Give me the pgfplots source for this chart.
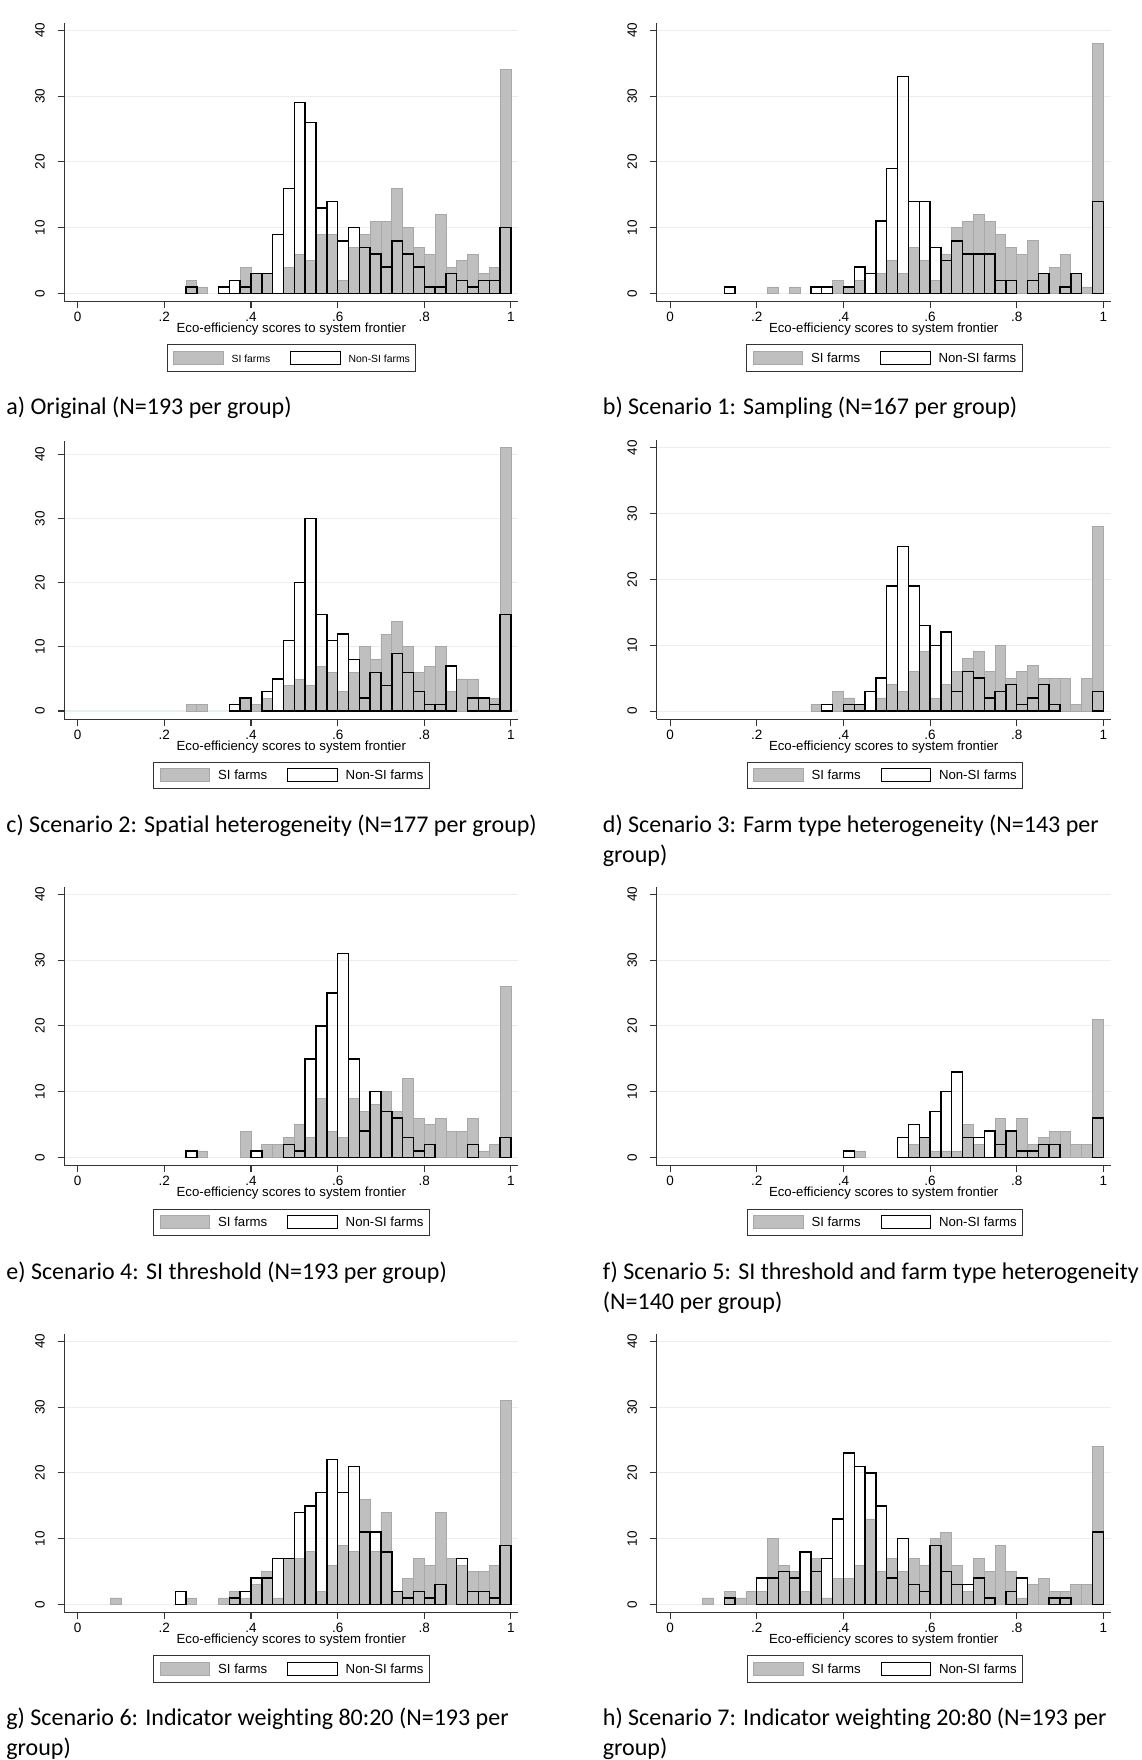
\documentclass[border=0pt]{standalone}
\usepackage{fontspec}
\setmainfont{Liberation Sans}
\newfontfamily\capfont[Ligatures=NoCommon]{Carlito}
\usepackage{pgfplots}
\pgfplotsset{compat=1.18}
\definecolor{sifill}{RGB}{191,191,191}
\definecolor{siedge}{RGB}{168,168,168}
\definecolor{gridc}{RGB}{230,239,241}
\pgfplotsset{
  panel/.style={
    scale only axis, width=227bp, height=139.5bp,
    xmin=-0.031, xmax=1.017, ymin=-1.25, ymax=41.16,
    axis lines*=left,
    axis line style={line width=0.55bp, color=black!80},
    xtick={0,0.2,0.4,0.6,0.8,1}, xticklabels={0,.2,.4,.6,.8,1},
    ytick={0,10,20,30,40}, yticklabels={0,10,20,30,40},
    /pgf/number format/assume math mode=true,
    tick align=outside, major tick length=3.3bp,
    tick style={line width=0.55bp, color=black!80},
    ymajorgrids, grid style={line width=0.55bp, color=gridc},
    tick label style={font=\fontsize{6.75bp}{8bp}\selectfont},
    xticklabel style={anchor=base, inner sep=0pt}, xticklabel shift=6.7bp,
    yticklabel style={rotate=90, anchor=south, inner sep=0pt}, yticklabel shift=6.3bp,
    xlabel={Eco-efficiency scores to system frontier},
    every axis x label/.style={at={(axis description cs:0.5,0)}, anchor=base, yshift=-15.5bp, font=\fontsize{6.6bp}{8bp}\selectfont},
    legend columns=2,
    legend style={at={(0.197,-0.153)}, anchor=north west, draw=black!80, line width=0.5bp,
      inner xsep=3bp, inner ysep=2.9bp, font=\fontsize{6.6bp}{8bp}\selectfont,
      nodes={inner sep=0pt}, cells={anchor=base west},
      /tikz/every odd column/.style={column sep=4bp},
      /tikz/every even column/.style={column sep=10bp}},
    legend image code/.code={\draw[##1, line width=0.5bp] (0bp,-0.97bp) rectangle (24.7bp,5.7bp);},
  },
  siplot/.style={ybar, bar width=0.025, bar shift=0pt, fill=sifill, draw=siedge, line width=0.4bp},
  nonplot/.style={ybar, bar width=0.025, bar shift=0pt, fill=none, draw=black, line width=0.7bp},
}
\begin{document}
\begin{tikzpicture}
\useasboundingbox (0,0) rectangle (571bp,-880bp);

% a) Original
\begin{axis}[panel, at={(32.15bp,-150.85bp)}, anchor=south west,
  legend style={at={(0.2255,-0.153)}, font=\fontsize{5.2bp}{6bp}\selectfont}]
\addplot[siplot] coordinates {(0.2625,2) (0.2875,1) (0.3875,4) (0.4125,3) (0.4375,3) (0.4875,4) (0.5125,6) (0.5375,5) (0.5625,9) (0.5875,9) (0.6125,2) (0.6375,7) (0.6625,9) (0.6875,11) (0.7125,11) (0.7375,16) (0.7625,10) (0.7875,7) (0.8125,6) (0.8375,12) (0.8625,4) (0.8875,5) (0.9125,6) (0.9375,3) (0.9625,4) (0.9875,34)};
\addplot[nonplot] coordinates {(0.2625,1) (0.3375,1) (0.3625,2) (0.3875,1) (0.4125,3) (0.4375,3) (0.4625,9) (0.4875,16) (0.5125,29) (0.5375,26) (0.5625,13) (0.5875,14) (0.6125,8) (0.6375,10) (0.6625,7) (0.6875,6) (0.7125,4) (0.7375,8) (0.7625,6) (0.7875,4) (0.8125,1) (0.8375,1) (0.8625,3) (0.8875,2) (0.9125,1) (0.9375,2) (0.9625,2) (0.9875,10)};
\legend{SI farms, Non-SI farms}
\end{axis}

% b) Scenario 1
\begin{axis}[panel, at={(328.35bp,-150.85bp)}, anchor=south west]
\addplot[siplot] coordinates {(0.2375,1) (0.2875,1) (0.3875,2) (0.4125,1) (0.4375,2) (0.4875,3) (0.5125,5) (0.5375,3) (0.5625,7) (0.5875,5) (0.6125,2) (0.6375,6) (0.6625,10) (0.6875,11) (0.7125,12) (0.7375,11) (0.7625,9) (0.7875,7) (0.8125,6) (0.8375,8) (0.8625,3) (0.8875,4) (0.9125,6) (0.9375,3) (0.9625,1) (0.9875,38)};
\addplot[nonplot] coordinates {(0.1375,1) (0.3375,1) (0.3625,1) (0.4125,1) (0.4375,4) (0.4625,3) (0.4875,11) (0.5125,19) (0.5375,33) (0.5625,14) (0.5875,14) (0.6125,7) (0.6375,5) (0.6625,8) (0.6875,6) (0.7125,6) (0.7375,6) (0.7625,2) (0.7875,2) (0.8375,2) (0.8625,3) (0.9125,1) (0.9375,3) (0.9875,14)};
\legend{SI farms, Non-SI farms}
\end{axis}

% c) Scenario 2
\begin{axis}[panel, height=139.3bp, ymin=-1.29, ymax=42.12, at={(32.15bp,-359.65bp)}, anchor=south west, legend style={at={(0.196,-0.152)}}]
\addplot[siplot] coordinates {(0.2625,1) (0.2875,1) (0.3875,2) (0.4125,1) (0.4375,2) (0.4875,4) (0.5125,5) (0.5375,4) (0.5625,7) (0.5875,6) (0.6125,3) (0.6375,6) (0.6625,10) (0.6875,8) (0.7125,12) (0.7375,14) (0.7625,10) (0.7875,6) (0.8125,7) (0.8375,10) (0.8625,3) (0.8875,5) (0.9125,5) (0.9375,2) (0.9625,2) (0.9875,41)};
\addplot[nonplot] coordinates {(0.3625,1) (0.3875,2) (0.4375,3) (0.4625,5) (0.4875,11) (0.5125,20) (0.5375,30) (0.5625,15) (0.5875,11) (0.6125,12) (0.6375,8) (0.6625,2) (0.6875,6) (0.7125,4) (0.7375,9) (0.7625,6) (0.7875,3) (0.8125,1) (0.8375,1) (0.8625,7) (0.9125,2) (0.9375,2) (0.9625,1) (0.9875,15)};
\legend{SI farms, Non-SI farms}
\end{axis}

% d) Scenario 3
\begin{axis}[panel, at={(328.35bp,-359.65bp)}, anchor=south west, legend style={at={(0.198,-0.152)}}]
\addplot[siplot] coordinates {(0.3375,1) (0.3875,3) (0.4125,2) (0.4375,1) (0.4875,2) (0.5125,4) (0.5375,3) (0.5625,6) (0.5875,9) (0.6125,2) (0.6375,4) (0.6625,6) (0.6875,8) (0.7125,9) (0.7375,6) (0.7625,10) (0.7875,5) (0.8125,6) (0.8375,7) (0.8625,5) (0.8875,5) (0.9125,5) (0.9375,1) (0.9625,5) (0.9875,28)};
\addplot[nonplot] coordinates {(0.3625,1) (0.4125,1) (0.4375,1) (0.4625,3) (0.4875,5) (0.5125,19) (0.5375,25) (0.5625,19) (0.5875,13) (0.6125,10) (0.6375,12) (0.6625,3) (0.6875,6) (0.7125,5) (0.7375,2) (0.7625,3) (0.7875,4) (0.8125,1) (0.8375,2) (0.8625,4) (0.8875,1) (0.9875,3)};
\legend{SI farms, Non-SI farms}
\end{axis}

% e) Scenario 4
\begin{axis}[panel, at={(32.15bp,-582.85bp)}, anchor=south west, legend style={at={(0.196,-0.154)}}]
\addplot[siplot] coordinates {(0.2875,1) (0.3875,4) (0.4375,2) (0.4625,2) (0.4875,3) (0.5125,5) (0.5375,3) (0.5625,9) (0.5875,4) (0.6125,3) (0.6375,9) (0.6625,7) (0.6875,8) (0.7125,10) (0.7375,7) (0.7625,12) (0.7875,6) (0.8125,5) (0.8375,6) (0.8625,4) (0.8875,4) (0.9125,6) (0.9375,1) (0.9625,2) (0.9875,26)};
\addplot[nonplot] coordinates {(0.2625,1) (0.4125,1) (0.4875,2) (0.5125,1) (0.5375,15) (0.5625,20) (0.5875,25) (0.6125,31) (0.6375,15) (0.6625,4) (0.6875,10) (0.7125,7) (0.7375,6) (0.7625,3) (0.7875,1) (0.8125,2) (0.9125,2) (0.9875,3)};
\legend{SI farms, Non-SI farms}
\end{axis}

% f) Scenario 5
\begin{axis}[panel, at={(328.35bp,-582.85bp)}, anchor=south west, legend style={at={(0.198,-0.154)}}]
\addplot[siplot] coordinates {(0.4375,1) (0.5625,2) (0.5875,3) (0.6125,1) (0.6375,1) (0.6625,1) (0.6875,5) (0.7125,2) (0.7625,6) (0.7875,4) (0.8125,6) (0.8375,2) (0.8625,3) (0.8875,4) (0.9125,4) (0.9375,2) (0.9625,2) (0.9875,21)};
\addplot[nonplot] coordinates {(0.4125,1) (0.5375,3) (0.5625,5) (0.5875,3) (0.6125,7) (0.6375,10) (0.6625,13) (0.6875,3) (0.7125,3) (0.7375,4) (0.7625,2) (0.7875,4) (0.8125,1) (0.8375,1) (0.8625,2) (0.8875,2) (0.9875,6)};
\legend{SI farms, Non-SI farms}
\end{axis}

% g) Scenario 6
\begin{axis}[panel, at={(32.15bp,-806.35bp)}, anchor=south west, legend style={at={(0.196,-0.153)}}]
\addplot[siplot] coordinates {(0.0875,1) (0.2625,1) (0.3375,1) (0.3625,2) (0.3875,1) (0.4125,3) (0.4375,5) (0.4625,1) (0.4875,7) (0.5125,7) (0.5375,8) (0.5625,2) (0.5875,6) (0.6125,9) (0.6375,8) (0.6625,16) (0.6875,8) (0.7125,14) (0.7375,2) (0.7625,4) (0.7875,7) (0.8125,6) (0.8375,14) (0.8625,7) (0.8875,6) (0.9125,5) (0.9375,5) (0.9625,6) (0.9875,31)};
\addplot[nonplot] coordinates {(0.2375,2) (0.3625,1) (0.3875,2) (0.4125,4) (0.4375,4) (0.4625,7) (0.4875,7) (0.5125,14) (0.5375,15) (0.5625,17) (0.5875,22) (0.6125,17) (0.6375,21) (0.6625,11) (0.6875,11) (0.7125,8) (0.7375,2) (0.7625,1) (0.7875,2) (0.8125,1) (0.8375,3) (0.8875,7) (0.9125,2) (0.9375,2) (0.9625,1) (0.9875,9)};
\legend{SI farms, Non-SI farms}
\end{axis}

% h) Scenario 7
\begin{axis}[panel, at={(328.35bp,-806.35bp)}, anchor=south west, legend style={at={(0.198,-0.153)}}]
\addplot[siplot] coordinates {(0.0875,1) (0.1375,2) (0.1625,1) (0.1875,2) (0.2125,2) (0.2375,10) (0.2625,6) (0.2875,5) (0.3125,2) (0.3375,7) (0.3625,1) (0.3875,4) (0.4125,4) (0.4375,6) (0.4625,13) (0.4875,5) (0.5125,7) (0.5375,5) (0.5625,7) (0.5875,6) (0.6125,10) (0.6375,11) (0.6625,6) (0.6875,2) (0.7125,7) (0.7375,5) (0.7625,9) (0.7875,5) (0.8125,1) (0.8375,3) (0.8625,4) (0.8875,2) (0.9125,2) (0.9375,3) (0.9625,3) (0.9875,24)};
\addplot[nonplot] coordinates {(0.1375,1) (0.2125,4) (0.2375,4) (0.2625,5) (0.2875,4) (0.3125,8) (0.3375,5) (0.3625,7) (0.3875,13) (0.4125,23) (0.4375,21) (0.4625,20) (0.4875,15) (0.5125,4) (0.5375,10) (0.5625,3) (0.5875,2) (0.6125,9) (0.6375,5) (0.6625,3) (0.6875,3) (0.7125,4) (0.7375,1) (0.7875,2) (0.8125,4) (0.8875,1) (0.9125,1) (0.9875,11)};
\legend{SI farms, Non-SI farms}
\end{axis}

% captions
\begin{scope}[every node/.style={anchor=base west, inner sep=0pt, font=\capfont\fontsize{12bp}{15bp}\selectfont}]
\node at (3bp,-207.25bp) {a) Original (N=193 per group)};
\node at (301.25bp,-207.25bp) {b) Scenario 1: Sampling (N=167 per group)};
\node at (3bp,-416.15bp) {c) Scenario 2: Spatial heterogeneity (N=177 per group)};
\node at (301.25bp,-416.15bp) {d) Scenario 3: Farm type heterogeneity (N=143 per};
\node at (301.25bp,-431.3bp) {group)};
\node at (3bp,-639.6bp) {e) Scenario 4: SI threshold (N=193 per group)};
\node at (301.25bp,-639.6bp) {f) Scenario 5: SI threshold and farm type heterogeneity};
\node at (301.25bp,-654.8bp) {(N=140 per group)};
\node at (3bp,-862.5bp) {g) Scenario 6: Indicator weighting 80:20 (N=193 per};
\node at (3bp,-877.7bp) {group)};
\node at (301.25bp,-862.5bp) {h) Scenario 7: Indicator weighting 20:80 (N=193 per};
\node at (301.25bp,-877.7bp) {group)};
\end{scope}
\end{tikzpicture}
\end{document}
